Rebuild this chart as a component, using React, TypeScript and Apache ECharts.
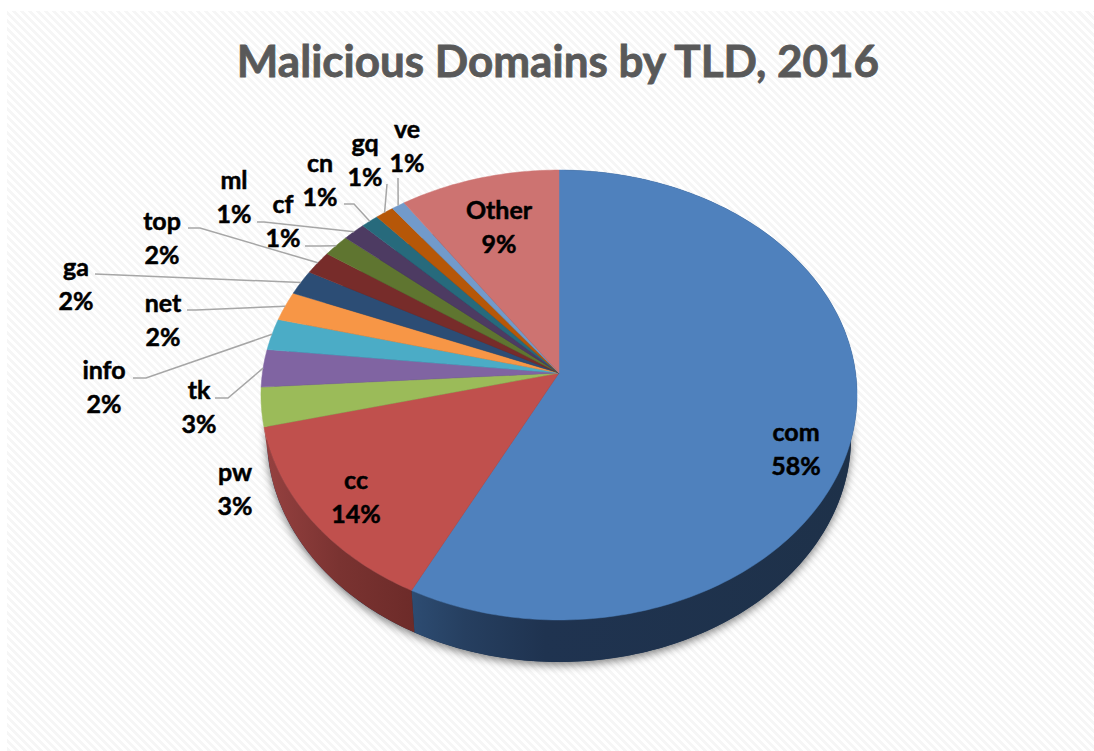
import React, { useEffect, useRef } from "react";
import * as echarts from "echarts";

const TITLE = "Malicious Domains by TLD, 2016";
const domains = ["com", "cc", "pw", "tk", "info", "net", "ga", "top", "cf", "ml", "cn", "gq", "ve", "Other"];
const shares = [57.5, 13.7, 2.8, 2.7, 2.25, 2.1, 1.8, 1.7, 1.6, 1.35, 1.05, 1.1, 0.8, 9.55];
const shareLabels = ["58%", "14%", "3%", "3%", "2%", "2%", "2%", "2%", "1%", "1%", "1%", "1%", "1%", "9%"];
const sliceColors = ["#4F81BD", "#C0504D", "#9BBB59", "#8064A2", "#4BACC6", "#F79646", "#2C4D75", "#772C2A", "#5F7530", "#4D3B62", "#276A7C", "#B65708", "#729ACA", "#CD7371"];

// Perspective of the tilted pie: apex position, radii and the foreshortening.
const APEX_X = 559;
const APEX_Y = 373;
const RADIUS_X = 296.6;
const RADIUS_Y = 222.8;
const TILT = 0.0978;
const DEPTH = 42;
const BASE_SCALE = 0.98;

// Label centres [x, y] and the leader line's elbows, as page positions.
const labelCentres: number[][] = [
  [796, 448], [356, 496], [235, 488], [199, 406], [104, 386], [163, 319], [76, 283],
  [162, 237], [283, 220], [234, 196], [320, 179], [365, 159], [407, 145], [499, 226],
];
const leaderElbows: (number[][] | null)[] = [
  null, null, null,
  [[215, 398], [228, 398]],
  [[133, 378], [146, 378]],
  [[187, 310], [196, 310]],
  [[95, 274]],
  [[188, 228], [200, 228]],
  [[305, 246], [320, 246]],
  [[257, 222], [264, 222]],
  [[344, 204], [354, 204]],
  [[387, 184]],
  [[398, 178]],
  null,
];

const wallFills: (any | null)[] = [
  {
    type: "linear", x: 0, y: 0, x2: 1, y2: 0,
    colorStops: [
      { offset: 0, color: "#2D4C72" },
      { offset: 0.12, color: "#263F60" },
      { offset: 0.3, color: "#1F3350" },
      { offset: 1, color: "#1E3149" },
    ],
  },
  {
    type: "linear", x: 0, y: 0, x2: 1, y2: 0,
    colorStops: [
      { offset: 0, color: "#964140" },
      { offset: 0.5, color: "#7A3331" },
      { offset: 1, color: "#6D2B29" },
    ],
  },
];

const total = shares.reduce((a, b) => a + b, 0);
const startOf = (i: number) => shares.slice(0, i).reduce((a, b) => a + b, 0) / total * Math.PI * 2;

function rim(theta: number, dy = 0, scale = 1): number[] {
  const X = Math.sin(theta);
  const Y = -Math.cos(theta);
  const w = 1 - TILT * Y;
  return [APEX_X + (RADIUS_X * scale * X) / w, APEX_Y + dy + (RADIUS_Y * Y) / w];
}

function arcPoints(a: number, b: number, dy = 0, scale = 1): number[][] {
  const n = Math.max(2, Math.ceil(Math.abs(b - a) / (Math.PI / 180)));
  const pts: number[][] = [];
  for (let k = 0; k <= n; k++) pts.push(rim(a + ((b - a) * k) / n, dy, scale));
  return pts;
}

function renderBase(params: any) {
  if (params.dataIndex !== 0) return { type: "group", children: [] };
  return {
    type: "polygon",
    shape: { points: arcPoints(0, Math.PI * 2, DEPTH, BASE_SCALE) },
    style: {
      fill: "#1E3149",
      shadowBlur: 9,
      shadowColor: "rgba(0,0,0,0.5)",
      shadowOffsetX: 0,
      shadowOffsetY: 3,
    },
  };
}

function renderWall(params: any) {
  const i = params.dataIndex;
  const fill = wallFills[i];
  if (!fill) return { type: "group", children: [] };
  const a = startOf(i);
  const b = startOf(i + 1);
  return {
    type: "polygon",
    shape: { points: [...arcPoints(a, b), ...arcPoints(b, a, DEPTH, BASE_SCALE)] },
    style: { fill },
  };
}

function renderTop(params: any) {
  const i = params.dataIndex;
  const pts = [[APEX_X, APEX_Y], ...arcPoints(startOf(i), startOf(i + 1))];
  return {
    type: "polygon",
    shape: { points: pts },
    style: { fill: sliceColors[i], stroke: sliceColors[i], lineWidth: 0.5 },
  };
}

function renderLabel(params: any) {
  const i = params.dataIndex;
  const children: any[] = [];
  const elbows = leaderElbows[i];
  if (elbows) {
    const end = rim((startOf(i) + startOf(i + 1)) / 2);
    children.push({
      type: "polyline",
      shape: { points: [...elbows, end] },
      style: { fill: "none", stroke: "#A6A6A6", lineWidth: 1.5 },
    });
  }
  const [x, y] = labelCentres[i];
  children.push({
    type: "text",
    x,
    y,
    style: {
      text: `${domains[i]}\n${shareLabels[i]}`,
      fontFamily: "Lato",
      fontWeight: "bold",
      fontSize: 25,
      lineHeight: 33.5,
      fill: "#000000",
      stroke: "#000000",
      lineWidth: 0.5,
      align: "center",
      verticalAlign: "middle",
    },
  });
  return { type: "group", children };
}

export default function App() {
  const ref = useRef<HTMLDivElement>(null);
  useEffect(() => {
    document.body.style.margin = "0";
    document.body.style.background = "#ffffff";
    const chart = echarts.init(ref.current!, undefined, { renderer: "svg" });
    const data = domains.map((name, i) => ({ name, value: shares[i] }));
    const layer = (renderItem: any, z: number) => ({
      type: "custom",
      coordinateSystem: "none",
      renderItem,
      data,
      z,
      silent: true,
    });
    chart.setOption({
      animation: false,
      backgroundColor: "transparent",
      title: {
        text: TITLE,
        left: 553,
        top: 33,
        textAlign: "center",
        textStyle: {
          fontFamily: "Lato",
          fontWeight: "bold",
          fontSize: 44,
          color: "#595959",
          textBorderColor: "#595959",
          textBorderWidth: 0.8,
        },
      },
      series: [layer(renderBase, 1), layer(renderWall, 2), layer(renderTop, 3), layer(renderLabel, 4)],
    });
    return () => chart.dispose();
  }, []);
  return (
    <div style={{ position: "relative", width: 1094, height: 751, overflow: "hidden", background: "#fff" }}>
      <div
        style={{
          position: "absolute",
          left: 7,
          top: 11,
          right: 0,
          bottom: 0,
          background: "repeating-linear-gradient(45deg, #f6f6f6 0px, #f6f6f6 2.83px, #ffffff 2.83px, #ffffff 5.66px)",
        }}
      />
      <div ref={ref} style={{ position: "absolute", left: 0, top: 0, width: 1094, height: 751 }} />
    </div>
  );
}
